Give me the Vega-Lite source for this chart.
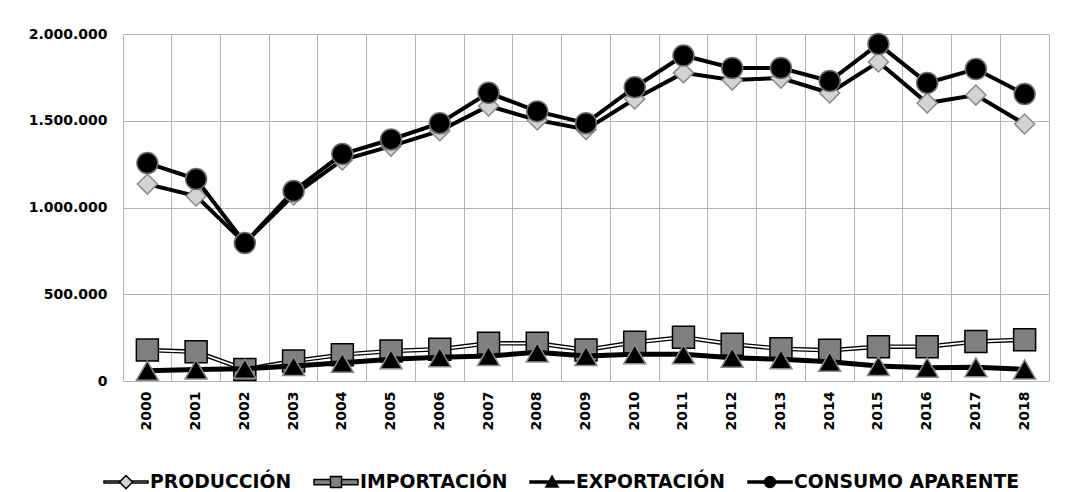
{
 "$schema": "https://vega.github.io/schema/vega-lite/v6.json",
 "width": 926, "height": 347,
 "autosize": {"type": "none"},
 "padding": {"left": 123, "top": 34, "right": 32, "bottom": 111},
 "background": "white",
 "config": {"view": {"stroke": "#b4b4b4", "strokeWidth": 1}},
 "data": {"values": [
  {"year":"2000","series":"PRODUCCIÓN","value":1135000},{"year":"2001","series":"PRODUCCIÓN","value":1066000},{"year":"2002","series":"PRODUCCIÓN","value":795000},{"year":"2003","series":"PRODUCCIÓN","value":1072000},{"year":"2004","series":"PRODUCCIÓN","value":1274000},{"year":"2005","series":"PRODUCCIÓN","value":1354000},{"year":"2006","series":"PRODUCCIÓN","value":1442000},{"year":"2007","series":"PRODUCCIÓN","value":1585000},{"year":"2008","series":"PRODUCCIÓN","value":1504000},{"year":"2009","series":"PRODUCCIÓN","value":1450000},{"year":"2010","series":"PRODUCCIÓN","value":1625000},{"year":"2011","series":"PRODUCCIÓN","value":1776000},{"year":"2012","series":"PRODUCCIÓN","value":1735000},{"year":"2013","series":"PRODUCCIÓN","value":1746000},{"year":"2014","series":"PRODUCCIÓN","value":1660000},{"year":"2015","series":"PRODUCCIÓN","value":1839000},{"year":"2016","series":"PRODUCCIÓN","value":1602000},{"year":"2017","series":"PRODUCCIÓN","value":1648000},{"year":"2018","series":"PRODUCCIÓN","value":1481000},
  {"year":"2000","series":"IMPORTACIÓN","value":178000},{"year":"2001","series":"IMPORTACIÓN","value":168000},{"year":"2002","series":"IMPORTACIÓN","value":67000},{"year":"2003","series":"IMPORTACIÓN","value":115000},{"year":"2004","series":"IMPORTACIÓN","value":152000},{"year":"2005","series":"IMPORTACIÓN","value":173000},{"year":"2006","series":"IMPORTACIÓN","value":183000},{"year":"2007","series":"IMPORTACIÓN","value":217000},{"year":"2008","series":"IMPORTACIÓN","value":217000},{"year":"2009","series":"IMPORTACIÓN","value":179000},{"year":"2010","series":"IMPORTACIÓN","value":223000},{"year":"2011","series":"IMPORTACIÓN","value":252000},{"year":"2012","series":"IMPORTACIÓN","value":212000},{"year":"2013","series":"IMPORTACIÓN","value":186000},{"year":"2014","series":"IMPORTACIÓN","value":177000},{"year":"2015","series":"IMPORTACIÓN","value":198000},{"year":"2016","series":"IMPORTACIÓN","value":198000},{"year":"2017","series":"IMPORTACIÓN","value":227000},{"year":"2018","series":"IMPORTACIÓN","value":238000},
  {"year":"2000","series":"EXPORTACIÓN","value":59000},{"year":"2001","series":"EXPORTACIÓN","value":67000},{"year":"2002","series":"EXPORTACIÓN","value":71000},{"year":"2003","series":"EXPORTACIÓN","value":86000},{"year":"2004","series":"EXPORTACIÓN","value":105000},{"year":"2005","series":"EXPORTACIÓN","value":125000},{"year":"2006","series":"EXPORTACIÓN","value":137000},{"year":"2007","series":"EXPORTACIÓN","value":144000},{"year":"2008","series":"EXPORTACIÓN","value":165000},{"year":"2009","series":"EXPORTACIÓN","value":144000},{"year":"2010","series":"EXPORTACIÓN","value":154000},{"year":"2011","series":"EXPORTACIÓN","value":154000},{"year":"2012","series":"EXPORTACIÓN","value":134000},{"year":"2013","series":"EXPORTACIÓN","value":125000},{"year":"2014","series":"EXPORTACIÓN","value":111000},{"year":"2015","series":"EXPORTACIÓN","value":86000},{"year":"2016","series":"EXPORTACIÓN","value":77000},{"year":"2017","series":"EXPORTACIÓN","value":79000},{"year":"2018","series":"EXPORTACIÓN","value":67000},
  {"year":"2000","series":"CONSUMO APARENTE","value":1256000},{"year":"2001","series":"CONSUMO APARENTE","value":1164000},{"year":"2002","series":"CONSUMO APARENTE","value":795000},{"year":"2003","series":"CONSUMO APARENTE","value":1095000},{"year":"2004","series":"CONSUMO APARENTE","value":1308000},{"year":"2005","series":"CONSUMO APARENTE","value":1392000},{"year":"2006","series":"CONSUMO APARENTE","value":1486000},{"year":"2007","series":"CONSUMO APARENTE","value":1661000},{"year":"2008","series":"CONSUMO APARENTE","value":1554000},{"year":"2009","series":"CONSUMO APARENTE","value":1486000},{"year":"2010","series":"CONSUMO APARENTE","value":1693000},{"year":"2011","series":"CONSUMO APARENTE","value":1876000},{"year":"2012","series":"CONSUMO APARENTE","value":1804000},{"year":"2013","series":"CONSUMO APARENTE","value":1804000},{"year":"2014","series":"CONSUMO APARENTE","value":1729000},{"year":"2015","series":"CONSUMO APARENTE","value":1942000},{"year":"2016","series":"CONSUMO APARENTE","value":1718000},{"year":"2017","series":"CONSUMO APARENTE","value":1798000},{"year":"2018","series":"CONSUMO APARENTE","value":1654000}
 ]},
 "encoding": {
  "x": {"field": "year", "type": "ordinal", "bandPosition": 0.5,
        "scale": {"type": "band", "paddingInner": 0, "paddingOuter": 0},
        "axis": {"title": null, "labelAngle": -90, "labelFont": "DejaVu Sans", "labelFontWeight": "bold", "labelFontSize": 14, "labelColor": "black", "ticks": false, "domain": false, "grid": true, "gridColor": "#b4b4b4", "gridOpacity": 1, "bandPosition": 0, "labelPadding": 10}},
  "y": {"field": "value", "type": "quantitative",
        "scale": {"domain": [0, 2000000]},
        "axis": {"title": null, "values": [0, 500000, 1000000, 1500000, 2000000], "labelExpr": "replace(replace(format(datum.value, ','), ',', '.'), ',', '.')", "labelFont": "DejaVu Sans", "labelFontWeight": "bold", "labelFontSize": 14, "labelColor": "black", "ticks": false, "domain": false, "gridColor": "#b4b4b4", "gridOpacity": 1, "labelPadding": 16}}
 },
 "layer": [
  {"transform": [{"filter": "datum.year === '2000'"}], "mark": {"type": "point", "filled": true, "opacity": 0, "strokeWidth": 1.5},
   "encoding": {
    "shape": {"field": "series", "type": "nominal",
      "scale": {"domain": ["PRODUCCIÓN","IMPORTACIÓN","EXPORTACIÓN","CONSUMO APARENTE"],
                "range": ["M-1,-0.045H-0.28V0.045H-1ZM0.28,-0.045H1V0.045H0.28ZM-0.3,0L0,-0.3L0.3,0L0,0.3Z", "M-1,-0.12H-0.25V0.12H-1ZM0.25,-0.12H1V0.12H0.25ZM-0.25,-0.25H0.25V0.25H-0.25Z", "M-1,-0.045H-0.2V0.045H-1ZM0.2,-0.045H1V0.045H0.2ZM0,-0.28L0.28,0.22L-0.28,0.22Z", "M-1,-0.045H-0.25V0.045H-1ZM0.25,-0.045H1V0.045H0.25ZM0.25,0A0.25,0.25,0,1,1,-0.25,0A0.25,0.25,0,1,1,0.25,0Z"]},
      "legend": {"orient": "none", "legendX": -20, "legendY": 425, "direction": "horizontal", "title": null, "symbolSize": 1936, "symbolOpacity": 1, "labelOffset": 1, "columnPadding": 19, "symbolStrokeWidth": 1.5, "symbolStrokeColor": "black", "labelFont": "DejaVu Sans", "labelFontWeight": "bold", "labelFontSize": 18.8, "labelColor": "black", "labelLimit": 400}},
    "fill": {"field": "series", "type": "nominal", "scale": {"domain": ["PRODUCCIÓN","IMPORTACIÓN","EXPORTACIÓN","CONSUMO APARENTE"], "range": ["#d3d3d3","#7f7f7f","#000000","#000000"]}},
    "stroke": {"field": "series", "type": "nominal", "scale": {"domain": ["PRODUCCIÓN","IMPORTACIÓN","EXPORTACIÓN","CONSUMO APARENTE"], "range": ["#000000","#000000","#000000","#000000"]}}
   }},
  {"transform": [{"filter": "datum.series === 'PRODUCCIÓN'"}], "mark": {"type": "line", "stroke": "black", "strokeWidth": 4}, "encoding": {}},
  {"transform": [{"filter": "datum.series === 'PRODUCCIÓN'"}], "mark": {"type": "point", "filled": true, "shape": "diamond", "fill": "#d3d3d3", "stroke": "#8a8a8a", "size": 400, "strokeWidth": 1.5, "opacity": 1}, "encoding": {}},
  {"transform": [{"filter": "datum.series === 'IMPORTACIÓN'"}], "mark": {"type": "line", "stroke": "black", "strokeWidth": 4.5}, "encoding": {}},
  {"transform": [{"filter": "datum.series === 'IMPORTACIÓN'"}], "mark": {"type": "line", "stroke": "white", "strokeWidth": 1.8}, "encoding": {}},
  {"transform": [{"filter": "datum.series === 'IMPORTACIÓN'"}], "mark": {"type": "point", "filled": true, "shape": "square", "fill": "#7f7f7f", "stroke": "#000000", "size": 484, "strokeWidth": 1.5, "opacity": 1}, "encoding": {}},
  {"transform": [{"filter": "datum.series === 'EXPORTACIÓN'"}], "mark": {"type": "line", "stroke": "black", "strokeWidth": 5}, "encoding": {}},
  {"transform": [{"filter": "datum.series === 'EXPORTACIÓN'"}], "mark": {"type": "point", "filled": true, "shape": "triangle-up", "fill": "#000000", "stroke": "#8a8a8a", "size": 484, "strokeWidth": 1.5, "opacity": 1}, "encoding": {}},
  {"transform": [{"filter": "datum.series === 'CONSUMO APARENTE'"}], "mark": {"type": "line", "stroke": "black", "strokeWidth": 4}, "encoding": {}},
  {"transform": [{"filter": "datum.series === 'CONSUMO APARENTE'"}], "mark": {"type": "point", "filled": true, "shape": "circle", "fill": "#000000", "stroke": "#6e6e6e", "size": 440, "strokeWidth": 1.5, "opacity": 1}, "encoding": {}}
 ]
}
